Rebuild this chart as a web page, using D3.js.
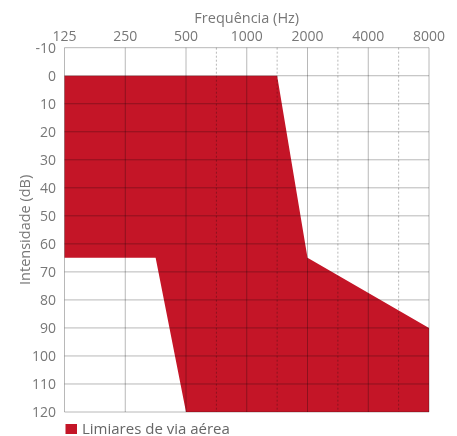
<!DOCTYPE html>
<html>
<head>
  <meta charset="utf-8">
  <title>Audiograma</title>
  <script src="https://cdn.jsdelivr.net/npm/d3@7"></script>
  <style>
    body { margin: 0; background: #fff; }
    svg { display: block; font-family: "Open Sans", sans-serif; }
    .tick-label { font-size: 14px; fill: #777; }
    .title { font-size: 14.5px; fill: #777; }
    .legend { font-size: 15px; fill: #666; }
    .grid { stroke: #b8b8b8; stroke-width: 1; mix-blend-mode: multiply; }
    .grid.half { stroke-dasharray: 2, 2; }
  </style>
</head>
<body>
  <svg id="chart" width="457" height="436"></svg>

  <script>
    // half-octave positions on the audiogram (125 Hz .. 8000 Hz)
    const freqSteps = [125, 187.5, 250, 375, 500, 750, 1000, 1500, 2000, 3000, 4000, 6000, 8000];
    const mainFreqs = [125, 250, 500, 1000, 2000, 4000, 8000];
    const midFreqs = [750, 1500, 3000, 6000];
    const dbTicks = [-10, 0, 10, 20, 30, 40, 50, 60, 70, 80, 90, 100, 110, 120];

    // shaded area: "Limiares de via aérea"
    const areaFreq = [125, 1500, 2000, 8000, 8000, 500, 375, 125];
    const areaDb = [0, 0, 65, 90, 120, 120, 65, 65];

    const svg = d3.select("#chart");
    const margin = { left: 64.5, right: 429, top: 47.7, bottom: 412 };

    const x = d3.scalePoint()
      .domain(freqSteps)
      .range([margin.left, margin.right]);

    const y = d3.scaleLinear()
      .domain([-10, 120])
      .range([margin.top, margin.bottom]);

    // red area
    const pts = areaFreq.map((f, i) => [x(f), y(areaDb[i])]);
    svg.append("path")
      .attr("d", d3.line()(pts) + "Z")
      .attr("fill", "#c41527");

    // grid
    const g = svg.append("g");
    g.selectAll(".hline")
      .data(dbTicks)
      .enter()
      .append("line")
      .attr("class", "grid")
      .attr("x1", margin.left)
      .attr("x2", margin.right)
      .attr("y1", (d) => y(d))
      .attr("y2", (d) => y(d));

    g.selectAll(".vline")
      .data(mainFreqs)
      .enter()
      .append("line")
      .attr("class", "grid")
      .attr("x1", (d) => x(d))
      .attr("x2", (d) => x(d))
      .attr("y1", margin.top)
      .attr("y2", margin.bottom);

    g.selectAll(".vhalf")
      .data(midFreqs)
      .enter()
      .append("line")
      .attr("class", "grid half")
      .attr("x1", (d) => x(d))
      .attr("x2", (d) => x(d))
      .attr("y1", margin.top)
      .attr("y2", margin.bottom);

    // frequency labels (top)
    svg.selectAll(".xlab")
      .data(mainFreqs)
      .enter()
      .append("text")
      .attr("class", "tick-label")
      .attr("x", (d) => x(d))
      .attr("y", 41)
      .attr("text-anchor", "middle")
      .text((d) => d);

    // intensity labels (left)
    svg.selectAll(".ylab")
      .data(dbTicks)
      .enter()
      .append("text")
      .attr("class", "tick-label")
      .attr("x", 56)
      .attr("y", (d) => y(d))
      .attr("dy", "0.36em")
      .attr("text-anchor", "end")
      .text((d) => d);

    // titles
    svg.append("text")
      .attr("class", "title")
      .attr("x", (margin.left + margin.right) / 2)
      .attr("y", 23)
      .attr("text-anchor", "middle")
      .text("Frequência (Hz)");

    svg.append("text")
      .attr("class", "title")
      .attr("transform", `translate(30,${(margin.top + margin.bottom) / 2}) rotate(-90)`)
      .attr("text-anchor", "middle")
      .text("Intensidade (dB)");

    // legend
    svg.append("rect")
      .attr("x", 65.5)
      .attr("y", 424)
      .attr("width", 11.5)
      .attr("height", 10)
      .attr("fill", "#c41527");

    svg.append("text")
      .attr("class", "legend")
      .attr("x", 82)
      .attr("y", 433.5)
      .text("Limiares de via aérea");
  </script>
</body>
</html>
